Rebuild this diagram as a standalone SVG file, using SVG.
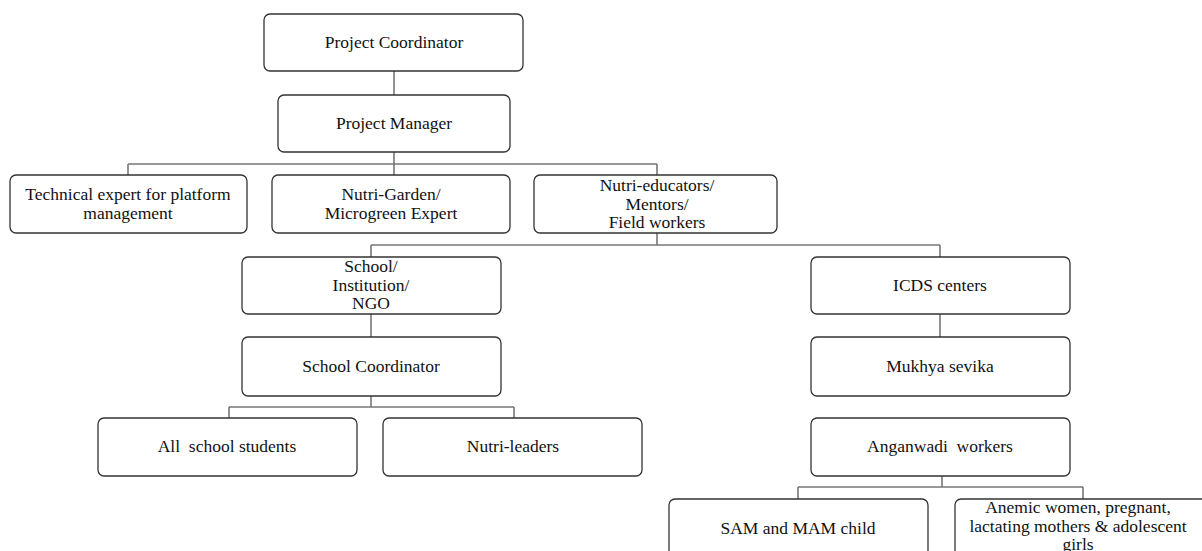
<svg xmlns="http://www.w3.org/2000/svg" width="1202" height="551" viewBox="0 0 1202 551">
<style>
.box{fill:#fff;stroke:#333;stroke-width:1.3}
.t{font-family:'Liberation Serif','Times New Roman',serif;font-size:17.5px;fill:#111;text-anchor:middle;white-space:pre}
.c{fill:none;stroke:#777;stroke-width:1.6}
</style>
<rect width="1202" height="551" fill="#fff"/>
<g id="connectors">
<path class="c" d="M394 71V95"/>
<path class="c" d="M394 152V164M128 164H657M128 164V175M394 164V175M657 164V175"/>
<path class="c" d="M657 233V245M371 245H940M371 245V257M940 245V257"/>
<path class="c" d="M371 314V337"/>
<path class="c" d="M940 314V337"/>
<path class="c" d="M371 396V407M229 407H514M229 407V418M514 407V418"/>
<path class="c" d="M942 476V487M798 487H1083M798 487V499M1083 487V499"/>
</g>
<g id="project-coordinator"><rect class="box" x="264" y="14" width="259" height="57" rx="6"/><text class="t" x="394" y="48">Project Coordinator</text></g>
<g id="project-manager"><rect class="box" x="278" y="95" width="232" height="57" rx="6"/><text class="t" x="394" y="129">Project Manager</text></g>
<g id="technical-expert"><rect class="box" x="10" y="175" width="237" height="58" rx="6"/><text class="t" x="128" y="200">Technical expert for platform</text><text class="t" x="128" y="219">management</text></g>
<g id="nutri-garden"><rect class="box" x="272" y="175" width="238" height="58" rx="6"/><text class="t" x="391" y="200">Nutri-Garden/</text><text class="t" x="391" y="219">Microgreen Expert</text></g>
<g id="nutri-educators"><rect class="box" x="534" y="175" width="243" height="58" rx="6"/><text class="t" x="657" y="191">Nutri-educators/</text><text class="t" x="657" y="209.5">Mentors/</text><text class="t" x="657" y="228">Field workers</text></g>
<g id="school-institution"><rect class="box" x="242" y="257" width="259" height="57" rx="6"/><text class="t" x="371" y="272">School/</text><text class="t" x="371" y="290.5">Institution/</text><text class="t" x="371" y="309">NGO</text></g>
<g id="icds-centers"><rect class="box" x="811" y="257" width="259" height="57" rx="6"/><text class="t" x="940" y="291">ICDS centers</text></g>
<g id="school-coordinator"><rect class="box" x="242" y="337" width="259" height="59" rx="6"/><text class="t" x="371" y="372">School Coordinator</text></g>
<g id="mukhya-sevika"><rect class="box" x="811" y="337" width="259" height="59" rx="6"/><text class="t" x="940" y="372">Mukhya sevika</text></g>
<g id="all-school-students"><rect class="box" x="98" y="418" width="259" height="58" rx="6"/><text class="t" x="227" y="452">All&#160; school students</text></g>
<g id="nutri-leaders"><rect class="box" x="383" y="418" width="259" height="58" rx="6"/><text class="t" x="513" y="452">Nutri-leaders</text></g>
<g id="anganwadi-workers"><rect class="box" x="811" y="418" width="259" height="58" rx="6"/><text class="t" x="940" y="452">Anganwadi&#160; workers</text></g>
<g id="sam-mam-child"><rect class="box" x="669" y="499" width="259" height="70" rx="6"/><text class="t" x="798" y="534">SAM and MAM child</text></g>
<g id="anemic-women"><rect class="box" x="955" y="499" width="260" height="70" rx="6"/><text class="t" x="1078" y="513">Anemic women, pregnant,</text><text class="t" x="1078" y="532">lactating mothers &amp; adolescent</text><text class="t" x="1078" y="550">girls</text></g>
</svg>
